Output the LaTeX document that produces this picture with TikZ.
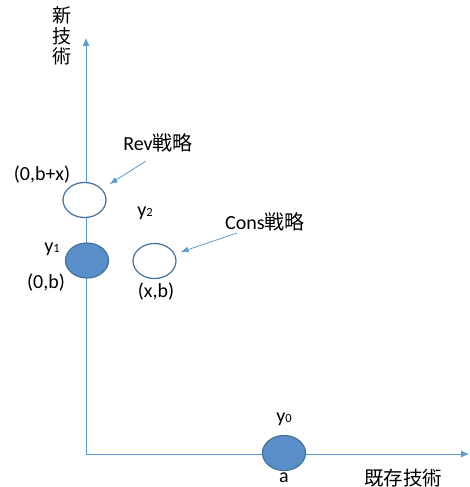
\documentclass[tikz,border=0pt]{standalone}
\usepackage{fontspec}
\setmainfont{Carlito}
\newfontfamily\cjk{Noto Sans CJK JP}
\usetikzlibrary{shapes.geometric,arrows.meta}
\definecolor{axisblue}{HTML}{5B9BD5}
\definecolor{fillblue}{HTML}{5B8FC9}
\definecolor{edgeblue}{HTML}{41719C}
\tikzset{
  axisline/.style={draw=axisblue, line width=0.8pt, -{Latex[length=8pt,width=7pt]}},
  pointer/.style={draw=axisblue, line width=0.8pt, -{Latex[length=8pt,width=6pt]}},
  dot/.style={ellipse, minimum width=43pt, minimum height=35pt, inner sep=0pt, line width=1.2pt, draw=edgeblue},
  hollow/.style={dot, fill=white},
  solid/.style={dot, fill=fillblue},
  lbl/.style={inner sep=0pt, font=\fontsize{20}{23}\selectfont},
}
\newcommand{\subdig}[1]{{\fontsize{12.5}{12.5}\selectfont #1}}
\begin{document}
\begin{tikzpicture}[x=1pt,y=-1pt]
\useasboundingbox (0,0) rectangle (470,487);
\coordinate (O) at (86,454);
\coordinate (ytop) at (86,38);
\coordinate (xend) at (469,454);
\draw[axisline] (O) -- (ytop);
\draw[axisline] (O) -- (xend);

\node[hollow] (rev) at (84.5,200) {};
\node[solid] (yone) at (87,260.5) {};
\node[hollow] (cons) at (154.5,261) {};
\node[solid] (yzero) at (284,453) {};

\node[lbl, align=center, font=\cjk\fontsize{19}{20.5}\selectfont] (newtech) at (62,36) {新\\技\\術};
\node[lbl] (revlbl) at (158,143) {Rev{\cjk 戦略}};
\node[lbl] (consl) at (265,222) {Cons{\cjk 戦略}};
\node[lbl, font=\cjk\fontsize{19.5}{20}\selectfont] (oldtech) at (403,478) {既存技術};
\node[lbl] (p1) at (42,175) {(0,b+x)};
\node[lbl] (p2) at (46,283) {(0,b)};
\node[lbl] (p3) at (156,292) {(x,b)};
\node[lbl] (pa) at (284,477.5) {a};
\node[lbl] (l1) at (52,249) {y\subdig{1}};
\node[lbl] (l2) at (145,213) {y\subdig{2}};
\node[lbl] (l0) at (284,419) {y\subdig{0}};

\coordinate (revstart) at (146,161);
\coordinate (consstart) at (237,233);
\draw[pointer, shorten >=9pt] (revstart) -- (rev);
\draw[pointer, shorten >=6pt] (consstart) -- (cons);
\end{tikzpicture}
\end{document}
